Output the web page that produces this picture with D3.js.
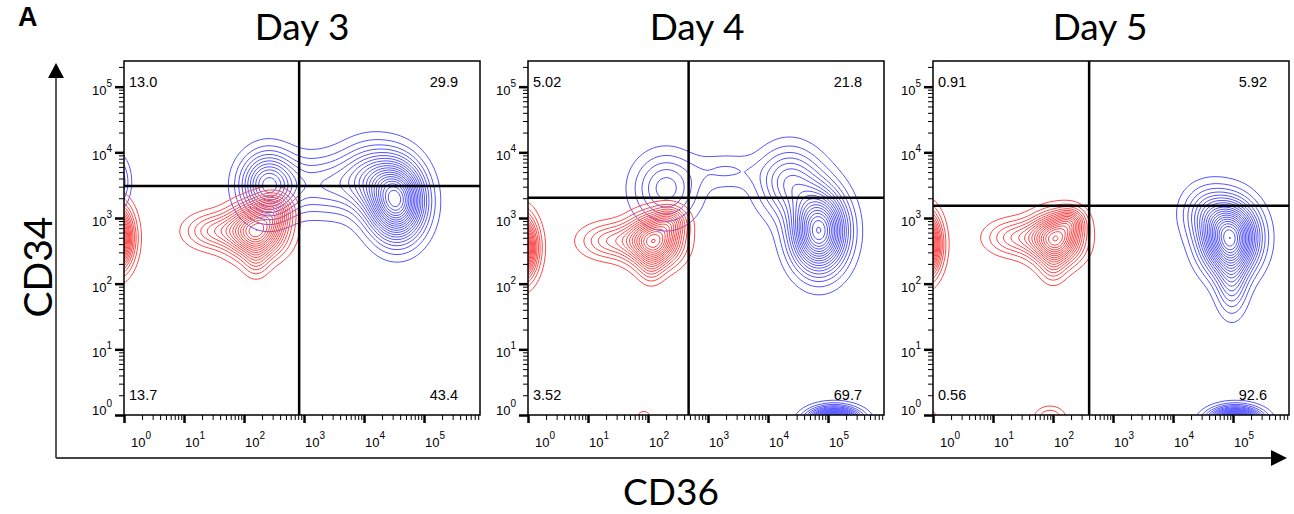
<!DOCTYPE html>
<html><head><meta charset="utf-8">
<script src="https://cdn.jsdelivr.net/npm/d3@7"></script>
<style>
html,body{margin:0;padding:0;background:#fff;}
svg{display:block;}
</style></head><body>
<svg id="c" width="1294" height="514"></svg>
<script>
// ---------- data ----------
const days = ["Day 3", "Day 4", "Day 5"];
const decadeTicks = [1, 10, 100, 1000, 10000, 100000];
const decadeExp = ["0", "1", "2", "3", "4", "5"];
const gateCD36 = [830, 475, 400];
const gateCD34 = [3080, 2030, 1540];
const pctUL = ["13.0", "5.02", "0.91"];
const pctUR = ["29.9", "21.8", "5.92"];
const pctLL = ["13.7", "3.52", "0.56"];
const pctLR = ["43.4", "69.7", "92.6"];
// population clusters: [log10 CD36, log10 CD34, spread x, spread y, peak height]
const redDay3 = [
  [2.2, 2.8, 0.3, 0.25, 0.72],
  [1.5, 2.8, 0.32, 0.18, 0.22],
  [2.5, 3.12, 0.2, 0.18, 0.3],
  [2.2, 2.35, 0.14, 0.18, 0.12],
  [-0.15, 2.7, 0.18, 0.3, 0.9]
];
const blueDay3 = [
  [2.4, 3.5, 0.3, 0.32, 0.5],
  [4.55, 3.25, 0.3, 0.38, 0.85],
  [4.1, 3.6, 0.35, 0.35, 0.3],
  [3.3, 3.5, 0.45, 0.3, 0.2],
  [-0.15, 3.55, 0.15, 0.25, 0.25]
];
const redDay4 = [
  [2.1, 2.65, 0.28, 0.24, 0.72],
  [1.4, 2.65, 0.35, 0.18, 0.22],
  [2.38, 2.95, 0.18, 0.15, 0.25],
  [2.05, 2.25, 0.14, 0.18, 0.12],
  [-0.15, 2.55, 0.18, 0.3, 0.9],
  [1.93, -0.02, 0.09, 0.07, 0.08]
];
const blueDay4 = [
  [2.3, 3.45, 0.36, 0.35, 0.25],
  [4.85, 2.8, 0.3, 0.4, 0.85],
  [4.35, 3.55, 0.35, 0.35, 0.3],
  [3.3, 3.72, 0.35, 0.18, 0.09],
  [5.1, -0.1, 0.27, 0.13, 1.0],
  [-0.1, 3.5, 0.1, 0.15, 0.07]
];
const redDay5 = [
  [2.05, 2.68, 0.27, 0.24, 0.72],
  [1.4, 2.7, 0.34, 0.18, 0.22],
  [2.3, 2.95, 0.16, 0.14, 0.25],
  [2.0, 2.25, 0.14, 0.18, 0.12],
  [-0.15, 2.6, 0.17, 0.3, 0.9],
  [1.95, -0.05, 0.17, 0.12, 0.15],
  [-0.05, -0.05, 0.08, 0.1, 0.1]
];
const blueDay5 = [
  [4.95, 2.7, 0.3, 0.35, 0.9],
  [4.98, 2.0, 0.17, 0.33, 0.22],
  [4.55, 3.1, 0.28, 0.28, 0.18],
  [5.04, -0.1, 0.27, 0.13, 1.0]
];
const redPops = [redDay3, redDay4, redDay5];
const bluePops = [blueDay3, blueDay4, blueDay5];
const contourLevels = d3.range(1, 22).map(i => i * 0.045);

// ---------- layout ----------
const svg = d3.select("#c");
const W = 356, H = 354, TOP = 61;
const lefts = [124, 528, 933];
const titleX = [302, 697, 1100];
const x = d3.scaleLog().domain([1, Math.pow(10, 5.933)]).range([0, W]);
const y = d3.scaleLog().domain([1, Math.pow(10, 5.391)]).range([H, 0]);
const RED = "#ff4a4a", BLUE = "#5656ff";
const tickFont = "'Liberation Sans', Arial, sans-serif";

const minorX = [], minorY = [];
for (let e = 0; e < 6; e++) for (let m = 2; m <= 9; m++) {
  const v = m * Math.pow(10, e);
  if (v <= x.domain()[1]) minorX.push(v);
  if (v <= y.domain()[1]) minorY.push(v);
}

function density(comps, lx, ly) {
  let s = 0;
  for (const [cx, cy, sx, sy, a] of comps) {
    const dx = (lx - cx) / sx, dy = (ly - cy) / sy;
    s += a * Math.exp(-0.5 * (dx * dx + dy * dy));
  }
  return s;
}

const CELL = 2, MARG = 20;
const nx = Math.round((W + 2 * MARG) / CELL), ny = Math.round((H + 2 * MARG) / CELL);
const gridPath = d3.geoPath(d3.geoIdentity().scale(CELL).translate([-MARG, -MARG]));

function drawContours(g, comps, color) {
  const vals = new Float64Array(nx * ny);
  for (let j = 0; j < ny; j++) {
    const py = -MARG + (j + 0.5) * CELL;
    const ly = Math.log10(y.invert(py));
    for (let i = 0; i < nx; i++) {
      const px = -MARG + (i + 0.5) * CELL;
      const lx = Math.log10(x.invert(px));
      vals[i + j * nx] = density(comps, lx, ly);
    }
  }
  const cs = d3.contours().size([nx, ny]).thresholds(contourLevels)(vals);
  g.selectAll(null).data(cs).enter().append("path")
    .attr("d", d => gridPath(d))
    .attr("fill", "none")
    .attr("stroke", color)
    .attr("stroke-width", 1);
}

days.forEach((day, k) => {
  const g = svg.append("g").attr("transform", `translate(${lefts[k]},${TOP})`);
  const clipId = "clip" + k;
  g.append("clipPath").attr("id", clipId).append("rect").attr("width", W).attr("height", H);
  const plot = g.append("g").attr("clip-path", `url(#${clipId})`);
  drawContours(plot, bluePops[k], BLUE);
  drawContours(plot, redPops[k], RED);

  // gates
  g.append("line").attr("x1", x(gateCD36[k])).attr("x2", x(gateCD36[k]))
    .attr("y1", 0).attr("y2", H).attr("stroke", "#000").attr("stroke-width", 2.5);
  g.append("line").attr("x1", 0).attr("x2", W)
    .attr("y1", y(gateCD34[k])).attr("y2", y(gateCD34[k])).attr("stroke", "#000").attr("stroke-width", 2.5);

  // box
  g.append("rect").attr("width", W).attr("height", H).attr("fill", "none")
    .attr("stroke", "#000").attr("stroke-width", 1.5);

  // axes: minor + major ticks
  const ax1 = g.append("g").attr("transform", `translate(0,${H})`)
    .call(d3.axisBottom(x).tickValues(minorX).tickSize(5).tickSizeOuter(0).tickFormat(""));
  const ax2 = g.append("g").attr("transform", `translate(0,${H})`)
    .call(d3.axisBottom(x).tickValues(decadeTicks).tickSize(8).tickSizeOuter(0).tickFormat(""));
  const ay1 = g.append("g")
    .call(d3.axisLeft(y).tickValues(minorY).tickSize(5).tickSizeOuter(0).tickFormat(""));
  const ay2 = g.append("g")
    .call(d3.axisLeft(y).tickValues(decadeTicks).tickSize(9).tickSizeOuter(0).tickFormat(""));
  [ax1, ax2, ay1, ay2].forEach(a => a.select(".domain").remove());
  [ax1, ay1].forEach(a => a.selectAll("line").attr("stroke", "#000").attr("stroke-width", 1));
  [ax2, ay2].forEach(a => a.selectAll("line").attr("stroke", "#000").attr("stroke-width", 2.5));

  // tick labels
  decadeTicks.forEach((v, i) => {
    const t = g.append("text").attr("x", x(v) + (i === 0 ? 7 : 1)).attr("y", H + 32)
      .attr("font-family", tickFont).attr("font-size", 13).attr("fill", "#000");
    t.append("tspan").text("10");
    t.append("tspan").attr("font-size", 10).attr("dy", -8).text(decadeExp[i]);
    const ty = g.append("text").attr("x", -12).attr("y", y(v) + (i === 0 ? 0 : 8))
      .attr("text-anchor", "end")
      .attr("font-family", tickFont).attr("font-size", 13).attr("fill", "#000");
    ty.append("tspan").text("10");
    ty.append("tspan").attr("font-size", 10).attr("dy", -8).text(decadeExp[i]);
  });

  // quadrant percentages
  const qf = (txt, xx, yy, anchor) => g.append("text").attr("x", xx).attr("y", yy)
    .attr("text-anchor", anchor).attr("font-family", tickFont).attr("font-size", 14.5)
    .attr("fill", "#000").text(txt);
  qf(pctUL[k], 5, 26, "start");
  qf(pctUR[k], W - 22, 26, "end");
  qf(pctLL[k], 5, H - 15, "start");
  qf(pctLR[k], W - 22, H - 15, "end");

  // title
  svg.append("text").attr("x", titleX[k]).attr("y", 40).attr("text-anchor", "middle")
    .attr("font-family", "Lato, 'Open Sans', sans-serif").attr("font-size", 37)
    .attr("fill", "#000").text(day);
});

// big axis arrows
svg.append("line").attr("x1", 56).attr("x2", 56).attr("y1", 458).attr("y2", 75)
  .attr("stroke", "#222").attr("stroke-width", 1.5);
svg.append("path").attr("d", "M56,63 L48,78 L64,78 Z").attr("fill", "#000");
svg.append("line").attr("x1", 56).attr("x2", 1275).attr("y1", 458).attr("y2", 458)
  .attr("stroke", "#444").attr("stroke-width", 2);
svg.append("path").attr("d", "M1287,458 L1271,450 L1271,466 Z").attr("fill", "#000");

// axis titles
svg.append("text").attr("transform", "translate(52,267) rotate(-90)").attr("text-anchor", "middle")
  .attr("font-family", "Lato, 'Open Sans', sans-serif").attr("font-size", 39).attr("fill", "#000").text("CD34");
svg.append("text").attr("x", 671).attr("y", 505).attr("text-anchor", "middle")
  .attr("font-family", "Lato, 'Open Sans', sans-serif").attr("font-size", 37).attr("fill", "#000").text("CD36");
svg.append("text").attr("x", 18).attr("y", 26)
  .attr("font-family", "'Liberation Sans', Arial, sans-serif").attr("font-weight", "bold")
  .attr("font-size", 27).attr("fill", "#000").text("A");
</script>
</body></html>
